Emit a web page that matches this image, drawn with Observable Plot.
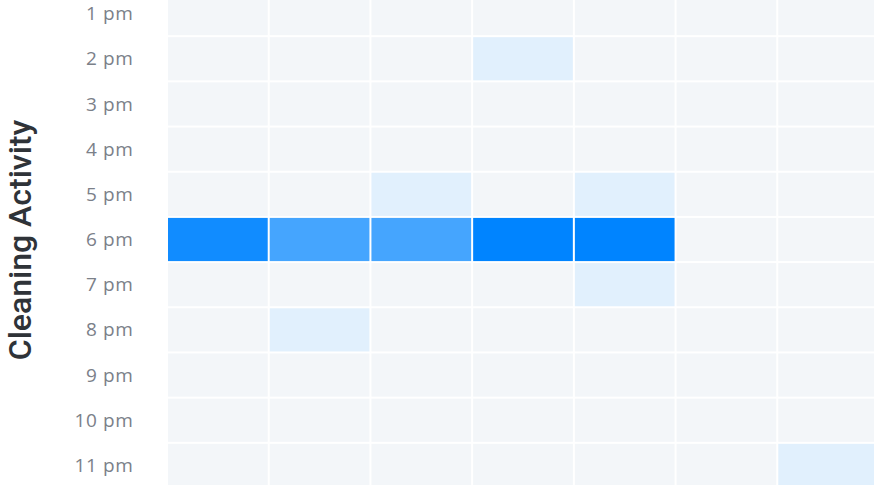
<!DOCTYPE html>
<html>
<head>
<meta charset="utf-8">
<script src="https://cdn.jsdelivr.net/npm/d3@7"></script>
<script src="https://cdn.jsdelivr.net/npm/@observablehq/plot@0.6"></script>
<style>
  html, body { margin: 0; padding: 0; background: #ffffff; }
  #chart svg { display: block; }
</style>
</head>
<body>
<div id="chart"></div>
<script>
const days = ["Mon", "Tue", "Wed", "Thu", "Fri", "Sat", "Sun"];
const hours = ["1 pm", "2 pm", "3 pm", "4 pm", "5 pm", "6 pm", "7 pm", "8 pm", "9 pm", "10 pm", "11 pm"];
const h1pm  = [0, 0, 0, 0, 0, 0, 0];
const h2pm  = [0, 0, 0, 1, 0, 0, 0];
const h3pm  = [0, 0, 0, 0, 0, 0, 0];
const h4pm  = [0, 0, 0, 0, 0, 0, 0];
const h5pm  = [0, 0, 1, 0, 1, 0, 0];
const h6pm  = [13, 10, 10, 14, 14, 0, 0];
const h7pm  = [0, 0, 0, 0, 1, 0, 0];
const h8pm  = [0, 1, 0, 0, 0, 0, 0];
const h9pm  = [0, 0, 0, 0, 0, 0, 0];
const h10pm = [0, 0, 0, 0, 0, 0, 0];
const h11pm = [0, 0, 0, 0, 0, 0, 1];
const rows = [h1pm, h2pm, h3pm, h4pm, h5pm, h6pm, h7pm, h8pm, h9pm, h10pm, h11pm];

const data = [];
hours.forEach((h, i) => days.forEach((d, j) => data.push({hour: h, day: d, value: rows[i][j]})));

const chart = Plot.plot({
  width: 874,
  height: 485,
  marginTop: -9,
  marginBottom: -3,
  marginLeft: 167,
  marginRight: -5,
  style: {fontFamily: "'Open Sans', sans-serif", background: "#ffffff"},
  x: {domain: days, axis: null, padding: 0, round: false},
  y: {domain: hours, padding: 0, round: false},
  color: {type: "linear", domain: [0, 1, 14], range: ["#f3f6f9", "#e1f0fd", "#0084ff"]},
  marks: [
    Plot.cell(data, {x: "day", y: "hour", fill: "value", inset: 1}),
    Plot.axisY({
      tickSize: 0,
      tickPadding: 34,
      fontSize: 19,
      color: "#7b8089",
      label: "Cleaning Activity",
      labelAnchor: "center",
      labelOffset: 159
    })
  ]
});
document.getElementById("chart").appendChild(chart);
chart.querySelectorAll("text").forEach(t => {
  if (t.textContent.includes("Cleaning")) {
    t.setAttribute("font-size", "32");
    t.setAttribute("font-weight", "500");
    t.setAttribute("font-family", "Roboto, sans-serif");
    t.setAttribute("fill", "#2f3338");
  } else if (/pm/.test(t.textContent)) {
    t.setAttribute("letter-spacing", "0.6");
    t.setAttribute("font-weight", "500");
  }
});
</script>
</body>
</html>
